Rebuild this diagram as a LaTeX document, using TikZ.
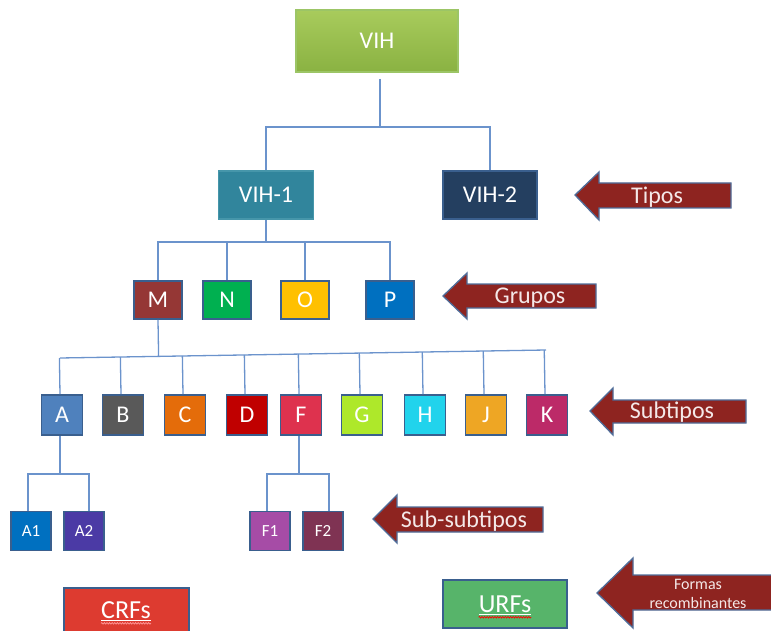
\documentclass[tikz,border=0pt]{standalone}
\usepackage{fontspec}
\setmainfont{Carlito}
\usetikzlibrary{calc,decorations.pathmorphing}
\definecolor{conn}{HTML}{6B93CC}
\definecolor{bdr}{HTML}{3A5F8E}
\definecolor{arrowfill}{HTML}{8E2420}
\definecolor{arrowbdr}{HTML}{4F6D9A}
\definecolor{arrtext}{HTML}{F4E8E8}
\begin{document}
\begin{tikzpicture}[x=1pt,y=-1pt,
  link/.style={draw=conn,line width=1.3pt},
  box/.style={draw=bdr,line width=1.6pt,text=white,inner sep=0pt,font=\fontsize{24}{24}\selectfont},
  grp/.style={box,minimum width=48pt,minimum height=38pt},
  sub/.style={box,minimum width=41pt,minimum height=40pt},
  ssub/.style={box,minimum width=40pt,minimum height=39pt,font=\fontsize{17}{17}\selectfont},
  blk/.style={fill=arrowfill,draw=arrowbdr,line width=1.3pt,line join=miter},
  blktext/.style={text=arrtext,inner sep=0pt,font=\fontsize{24}{24}\selectfont},
  wavy/.style={draw=red,line width=0.7pt,decorate,decoration={snake,amplitude=0.8pt,segment length=2.6pt}}]
\useasboundingbox (0,0) rectangle (771,631);

% top level
\node[box,draw=black!10!green!30!olive!60,top color={rgb,255:red,168;green,203;blue,92},bottom color={rgb,255:red,138;green,178;blue,66},minimum width=162pt,minimum height=62pt] (vih) at (377,41) {VIH};
\node[box,fill={rgb,255:red,49;green,133;blue,156},draw={rgb,255:red,70;green,150;blue,170},minimum width=95pt,minimum height=48pt] (vih1) at (266,195) {VIH-1};
\node[box,fill={rgb,255:red,36;green,63;blue,96},minimum width=94pt,minimum height=48pt] (vih2) at (490,195) {VIH-2};

% groups
\node[grp,fill={rgb,255:red,149;green,55;blue,53}] (m) at (158,300) {M};
\node[grp,fill={rgb,255:red,0;green,176;blue,80}] (n) at (227,300) {N};
\node[grp,fill={rgb,255:red,255;green,192;blue,0}] (o) at (305,300) {O};
\node[grp,fill={rgb,255:red,0;green,112;blue,192}] (p) at (390,300) {P};

% subtypes
\node[sub,fill={rgb,255:red,79;green,129;blue,189}] (a) at (62,415) {A};
\node[sub,fill={rgb,255:red,89;green,89;blue,89}] (b) at (123,415) {B};
\node[sub,fill={rgb,255:red,228;green,108;blue,10}] (c) at (185,415) {C};
\node[sub,fill={rgb,255:red,192;green,0;blue,0}] (d) at (247,415) {D};
\node[sub,fill={rgb,255:red,222;green,50;blue,78}] (f) at (301,415) {F};
\node[sub,fill={rgb,255:red,174;green,232;blue,42}] (g) at (362,415) {G};
\node[sub,fill={rgb,255:red,33;green,211;blue,236}] (h) at (425,415) {H};
\node[sub,fill={rgb,255:red,238;green,166;blue,36}] (j) at (486,415) {J};
\node[sub,fill={rgb,255:red,188;green,42;blue,104}] (k) at (547,415) {K};

% sub-subtypes
\node[ssub,fill={rgb,255:red,0;green,112;blue,192}] (a1) at (31,531) {A1};
\node[ssub,fill={rgb,255:red,75;green,58;blue,165}] (a2) at (84,531) {A2};
\node[ssub,fill={rgb,255:red,166;green,76;blue,166}] (f1) at (270,531) {F1};
\node[ssub,fill={rgb,255:red,127;green,51;blue,83}] (f2) at (323,531) {F2};

% recombinant forms
\node[box,fill={rgb,255:red,221;green,59;blue,48},minimum width=125pt,minimum height=50pt] (crf) at (126.5,613) {};
\node[text=white,inner sep=0pt,font=\fontsize{26}{26}\selectfont] (crft) at (126,611) {\underline{CRFs}};
\node[box,fill={rgb,255:red,87;green,180;blue,106},minimum width=124pt,minimum height=48pt] (urf) at (505,604) {};
\node[text=white,inner sep=0pt,font=\fontsize{26}{26}\selectfont] (urft) at (505,605) {\underline{URFs}};
\draw[wavy,draw={rgb,255:red,255;green,150;blue,150}] ([yshift=-5pt]crft.base west) -- ([yshift=-5pt]crft.base east);
\draw[wavy] ([yshift=-5pt]urft.base west) -- ([yshift=-5pt]urft.base east);

% connectors
\coordinate (vihout) at (380,79);
\coordinate (bus1) at (380,127);
\draw[link] (vihout) -- (bus1);
\draw[link] (vih1.north) |- (bus1) -| (vih2.north);

\coordinate (bus2) at (266,242);
\draw[link] (vih1.south) -- (bus2);
\draw[link] (m.north) |- (bus2) -| (p.north);
\draw[link] (n.north) -- (n.north |- bus2);
\draw[link] (o.north) -- (o.north |- bus2);

\coordinate (busL) at (60,358);
\coordinate (busR) at (546,350);
\draw[link] (busL) -- (busR);
\draw[link] (m.south) -- ($(busL)!(m.south)!(busR)$);
\foreach \s in {a,b,c,d,f,g,h,j,k}
  \draw[link] ([xshift=-2pt]\s.north) -- ($(busL)!([xshift=-2pt]\s.north)!(busR)$);

\coordinate (busA) at (60,474);
\draw[link] ([xshift=-2pt]a.south) -- (busA);
\draw[link] ([xshift=-3pt]a1.north) |- (busA) -| ([xshift=5pt]a2.north);
\coordinate (busF) at (299,474);
\draw[link] ([xshift=-2pt]f.south) -- (busF);
\draw[link] ([xshift=-3pt]f1.north) |- (busF) -| ([xshift=6pt]f2.north);

% block arrows
\draw[blk] (575,195) -- (599,172) -- (599,183) -- (731,183) -- (731,208) -- (599,208) -- (599,220) -- cycle;
\node[blktext] (tipos) at (657,197) {Tipos};
\draw[blk] (443,296) -- (467,273) -- (467,284) -- (596,284) -- (596,308) -- (467,308) -- (467,319) -- cycle;
\node[blktext] (grupos) at (530,298) {Grupos};
\draw[blk] (590,411) -- (613,388) -- (613,400) -- (746,400) -- (746,423) -- (613,423) -- (613,435) -- cycle;
\node[blktext] (subtipos) at (672,412) {Subtipos};
\draw[blk] (373,519) -- (397,495) -- (397,507) -- (543,507) -- (543,532) -- (397,532) -- (397,543) -- cycle;
\node[blktext] (subsub) at (464,521) {Sub-subtipos};
\draw[blk] (597,593) -- (633,558) -- (633,575) -- (780,575) -- (780,610) -- (633,610) -- (633,628) -- cycle;
\node[blktext,font=\fontsize{16}{19}\selectfont,align=center] (formas) at (698,594) {Formas\\recombinantes};
\end{tikzpicture}
\end{document}
